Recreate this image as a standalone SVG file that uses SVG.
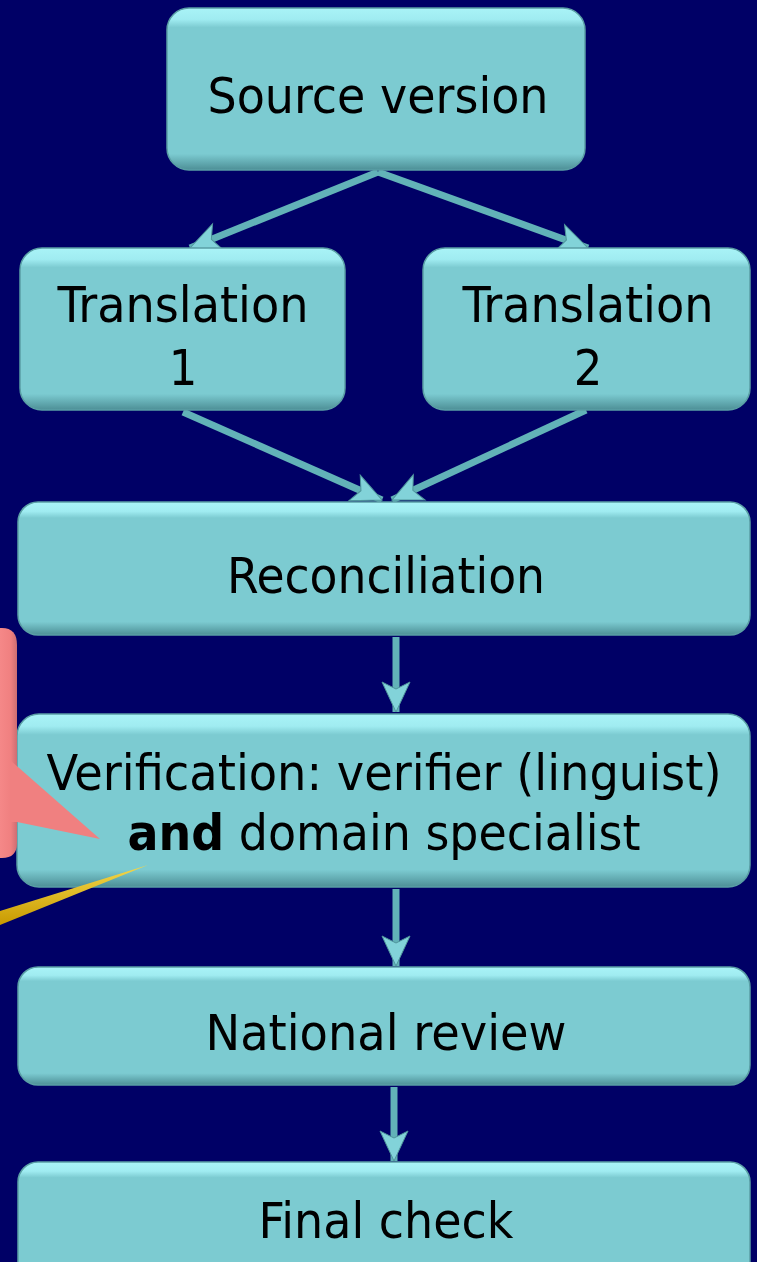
<svg xmlns="http://www.w3.org/2000/svg" width="757" height="1262" viewBox="0 0 757 1262">
<defs>
<linearGradient id="boxg" x1="0" y1="0" x2="0" y2="1">
<stop offset="0" stop-color="#a9f3f7"/>
<stop offset="0.07" stop-color="#a0ecf1"/>
<stop offset="0.12" stop-color="#7ccbd1"/>
<stop offset="0.9" stop-color="#7ccbd1"/>
<stop offset="1" stop-color="#4d8f96"/>
</linearGradient>
<linearGradient id="pinkg" gradientUnits="userSpaceOnUse" x1="0" y1="0" x2="18" y2="0">
<stop offset="0" stop-color="#f58888"/>
<stop offset="0.6" stop-color="#f08080"/>
<stop offset="1" stop-color="#c86a70"/>
</linearGradient>
<linearGradient id="yelg" x1="0" y1="0" x2="0" y2="1">
<stop offset="0" stop-color="#f5d84a"/>
<stop offset="1" stop-color="#c89a00"/>
</linearGradient>
<marker id="ah" markerUnits="userSpaceOnUse" markerWidth="34" markerHeight="34" viewBox="0 0 34 34" refX="32" refY="17" orient="auto">
<path d="M2,3 L32,17 L2,31 L9,17 Z" fill="#82d3d9" stroke="#4f959b" stroke-width="1"/>
</marker>
<style>
.box{fill:url(#boxg);stroke:#5a9fa5;stroke-width:1.5}
.t{font-family:"DejaVu Sans Condensed","DejaVu Sans",sans-serif;font-size:50px;fill:#000;text-anchor:middle}
.c{stroke:#62b2b8;stroke-width:7;fill:none;marker-end:url(#ah)}
</style>
</defs>
<rect x="0" y="0" width="757" height="1262" fill="#000066"/>
<g id="connectors">
<line class="c" x1="378" y1="172" x2="190" y2="248"/>
<line class="c" x1="378" y1="172" x2="588" y2="248"/>
<line class="c" x1="183" y1="412" x2="382" y2="500"/>
<line class="c" x1="586" y1="410" x2="392" y2="500"/>
<line class="c" x1="396" y1="637" x2="396" y2="712"/>
<line class="c" x1="396" y1="889" x2="396" y2="966"/>
<line class="c" x1="394" y1="1087" x2="394" y2="1161"/>
</g>
<g id="n-source">
<rect class="box" x="167" y="8" width="418" height="162" rx="22"/>
<text class="t" x="378" y="113" textLength="341" lengthAdjust="spacingAndGlyphs">Source version</text>
</g>
<g id="n-t1">
<rect class="box" x="20" y="248" width="325" height="162" rx="22"/>
<text class="t" x="183" y="322" textLength="251" lengthAdjust="spacingAndGlyphs">Translation</text>
<text class="t" x="183" y="385">1</text>
</g>
<g id="n-t2">
<rect class="box" x="423" y="248" width="327" height="162" rx="22"/>
<text class="t" x="588" y="322" textLength="251" lengthAdjust="spacingAndGlyphs">Translation</text>
<text class="t" x="588" y="385">2</text>
</g>
<g id="n-rec">
<rect class="box" x="18" y="502" width="732" height="133" rx="20"/>
<text class="t" x="386" y="593" textLength="318" lengthAdjust="spacingAndGlyphs">Reconciliation</text>
</g>
<g id="n-ver">
<rect class="box" x="17" y="714" width="733" height="173" rx="22"/>
<text class="t" x="384" y="790" textLength="675" lengthAdjust="spacingAndGlyphs">Verification: verifier (linguist)</text>
<text class="t" x="384" y="850" textLength="513" lengthAdjust="spacingAndGlyphs"><tspan font-weight="bold">and</tspan> domain specialist</text>
</g>
<g id="n-nat">
<rect class="box" x="18" y="967" width="732" height="118" rx="20"/>
<text class="t" x="386" y="1050" textLength="361" lengthAdjust="spacingAndGlyphs">National review</text>
</g>
<g id="n-final">
<rect class="box" x="18" y="1162" width="732" height="130" rx="20"/>
<text class="t" x="386" y="1238" textLength="255" lengthAdjust="spacingAndGlyphs">Final check</text>
</g>
<g id="callout">
<path d="M-10,628 L2,628 Q17,628 17,645 L17,760 L17,822 L17,843 Q17,858 2,858 L-10,858 Z" fill="url(#pinkg)"/>
<path d="M10,760 L100,839 L17,822 L10,822 Z" fill="#f08080"/>
</g>
<g id="pointer">
<polygon points="0,911 148,865 0,925" fill="url(#yelg)"/>
</g>
</svg>
